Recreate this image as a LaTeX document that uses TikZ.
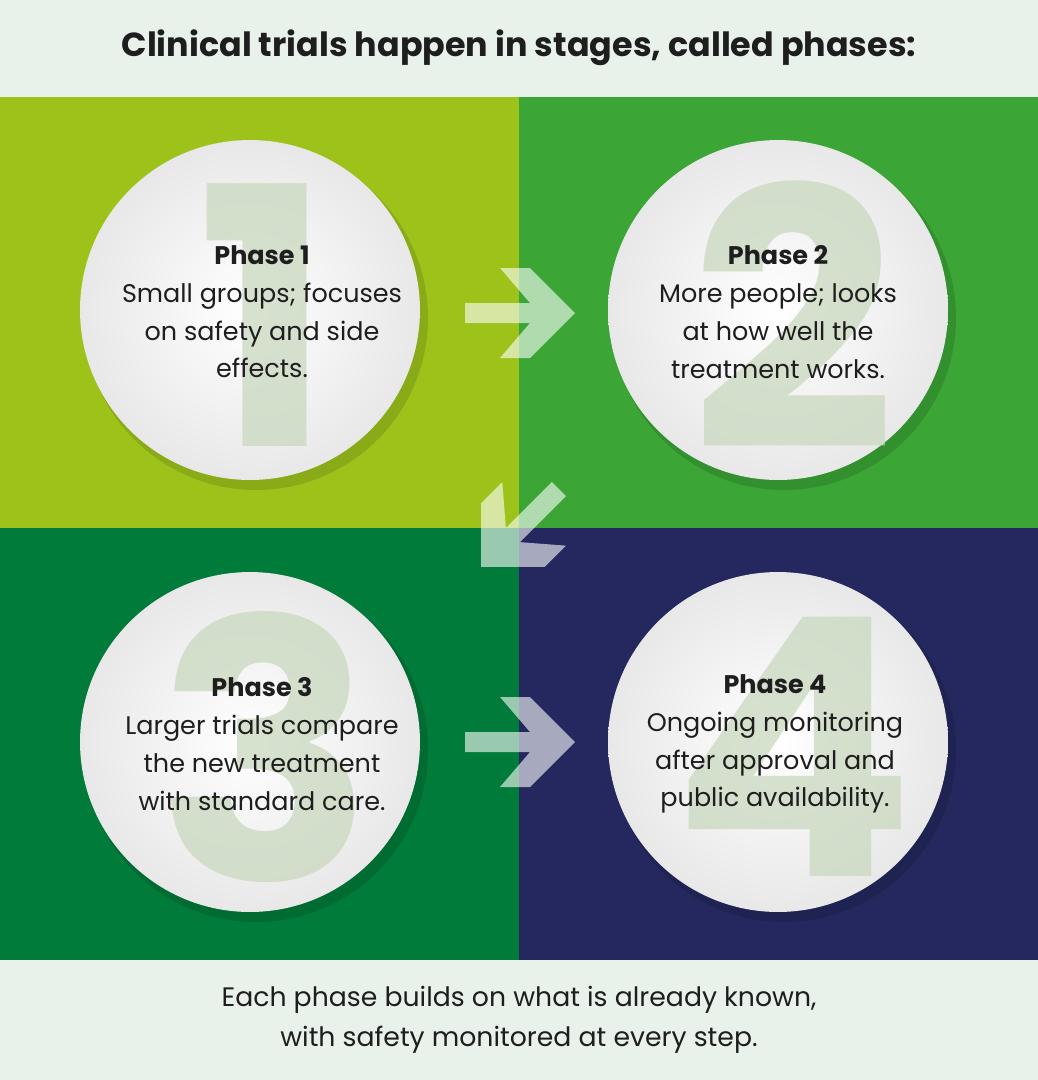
\documentclass[tikz,border=0pt]{standalone}
\usepackage{fontspec}
\setmainfont{Poppins}
\usetikzlibrary{positioning}
\definecolor{bandbg}{HTML}{E8F2EA}
\definecolor{limeq}{HTML}{9DC31B}
\definecolor{greenq}{HTML}{3BA535}
\definecolor{darkq}{HTML}{007B3A}
\definecolor{navyq}{HTML}{24285E}
\definecolor{inktext}{HTML}{1E1E1E}
\definecolor{digitc}{HTML}{C9D9BF}
\tikzset{
  phase circle/.style={circle, minimum size=6.8cm, inner color=white, outer color=gray!18},
  big digit/.style={text=digitc, opacity=0.75, font=\bfseries\fontsize{205}{205}\selectfont},
  phase text/.style={text=inktext, align=center, font=\fontsize{14.5}{21.5}\selectfont},
  chevron/.style={fill=white, fill opacity=0.6, draw=none},
}
\newcommand{\chevronarrow}{%
  (-1.1,-0.2) -- (0.2,-0.2) -- (-0.4,-0.9) -- (0.2,-0.9) -- (1.1,0) --
  (0.2,0.9) -- (-0.4,0.9) -- (0.2,0.2) -- (-1.1,0.2) -- cycle}
\begin{document}
\begin{tikzpicture}[x=0.02cm,y=-0.02cm]
  \useasboundingbox (0,0) rectangle (1038,1080);

  % Bands and quadrants
  \fill[bandbg] (0,0) rectangle (1038,1080);
  \fill[limeq] (0,97) rectangle (519,528);
  \fill[greenq] (519,97) rectangle (1038,528);
  \fill[darkq] (0,528) rectangle (519,960);
  \fill[navyq] (519,528) rectangle (1038,960);

  % Title
  \node[text=inktext, font=\bfseries\fontsize{19}{22}\selectfont] (title) at (519,48)
    {Clinical trials happen in stages, called phases:};

  % Circles
  \foreach \cx/\cy/\nm/\dg in {250/310/c1/1, 778/310/c2/2, 250/742/c3/3, 778/742/c4/4}{
    \fill[black, opacity=0.12] (\cx+6,\cy+8) circle (172);
    \node[phase circle] (\nm) at (\cx,\cy) {};
    \node[big digit] at (\cx+15,\cy+5) {\dg};
  }

  % Texts
  \node[phase text] (t1) at (262,312) {\textbf{Phase 1}\\Small groups; focuses\\on safety and side\\effects.};
  \node[phase text] (t2) at (778,312) {\textbf{Phase 2}\\More people; looks\\at how well the\\treatment works.};
  \node[phase text] (t3) at (262,744) {\textbf{Phase 3}\\Larger trials compare\\the new treatment\\with standard care.};
  \node[phase text] (t4) at (775,744) {\textbf{Phase 4}\\Ongoing monitoring\\after approval and\\public availability.};

  % Arrows
  \begin{scope}[shift={(520,313)}, x=1cm, y=1cm]
    \fill[chevron] \chevronarrow;
  \end{scope}
  \begin{scope}[shift={(520,742)}, x=1cm, y=1cm]
    \fill[chevron] \chevronarrow;
  \end{scope}
  \begin{scope}[shift={(520,528)}, x=1cm, y=1cm, rotate=-135]
    \fill[chevron] \chevronarrow;
  \end{scope}

  % Footer
  \node[phase text, font=\fontsize{15.2}{22.5}\selectfont] (foot) at (519,1020)
    {Each phase builds on what is already known,\\with safety monitored at every step.};
\end{tikzpicture}
\end{document}
